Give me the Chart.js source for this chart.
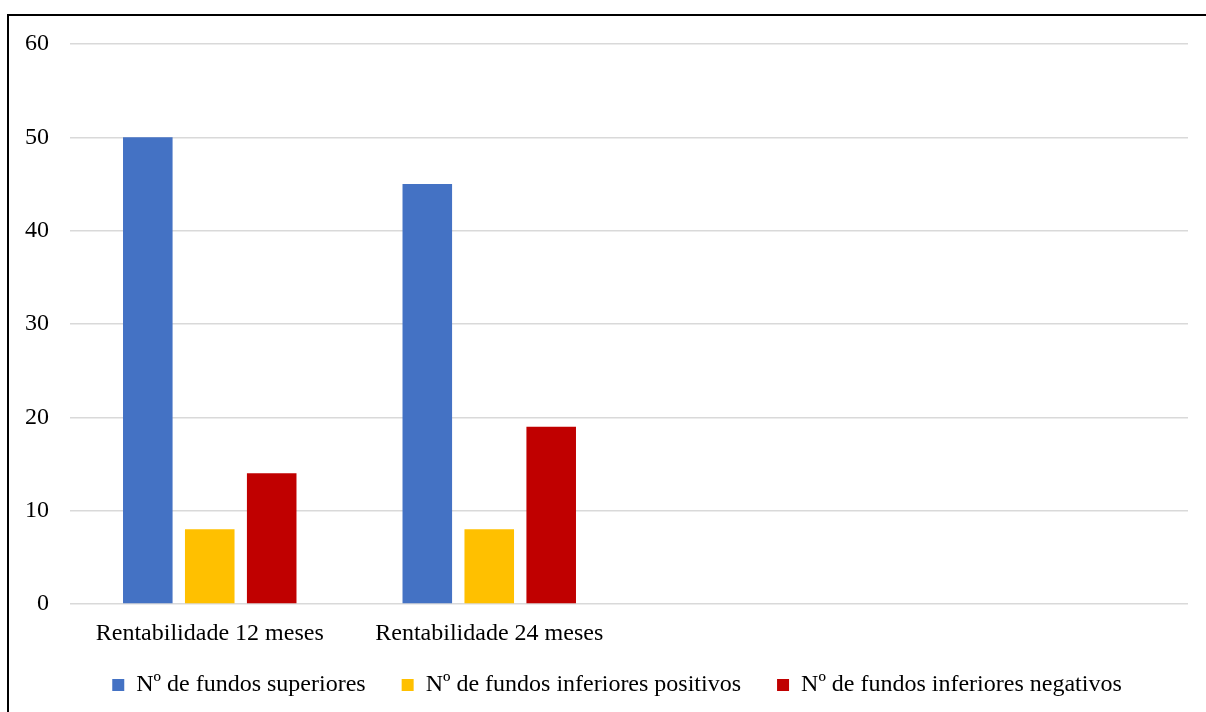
<!DOCTYPE html>
<html lang="pt">
<head>
<meta charset="utf-8">
<title>Rentabilidade dos fundos</title>
<script src="https://cdn.jsdelivr.net/npm/chart.js@4/dist/chart.umd.min.js"></script>
<style>
  html, body { margin: 0; padding: 0; background: #fff; }
  #wrap { position: relative; width: 1206px; height: 712px; overflow: hidden; }
  #moldura {
    position: absolute; left: 7px; top: 14px; width: 1400px; height: 900px;
    border-top: 2px solid #000; border-left: 2px solid #000; pointer-events: none;
  }
  canvas { display: block; }
</style>
</head>
<body>
<div id="wrap">
  <canvas id="grafico" width="1206" height="712"></canvas>
  <div id="moldura"></div>
</div>
<script>
'use strict';

/* ----------------------------------------------------------
   DADOS
   ---------------------------------------------------------- */

var categorias = ['Rentabilidade 12 meses', 'Rentabilidade 24 meses', '', ''];
var fundosSuperiores = [50, 45, null, null];
var fundosInfPositivos = [8, 8, null, null];
var fundosInfNegativos = [14, 19, null, null];
var ticksY = [0, 10, 20, 30, 40, 50, 60];

var FONTE = '"Liberation Serif", "Times New Roman", serif';

function serie(nome, valores, cor) {
  return {
    label: nome,
    data: valores,
    backgroundColor: cor,
    borderWidth: 0,
    categoryPercentage: 0.665,
    barPercentage: 0.8
  };
}

// a legenda do original está um pouco à direita e mais acima
var ajusteLegenda = {
  id: 'ajusteLegenda',
  afterLayout: function (chart) {
    var leg = chart.legend;
    if (!leg) return;
    leg.left += 23; leg.right += 23;
    leg.top -= 12; leg.bottom -= 12;
  }
};

Chart.defaults.font.family = FONTE;
Chart.defaults.color = '#000';
Chart.defaults.animation = false;

new Chart(document.getElementById('grafico'), {
  type: 'bar',
  data: {
    labels: categorias,
    datasets: [
      serie('Nº de fundos superiores', fundosSuperiores, '#4472C4'),
      serie('Nº de fundos inferiores positivos', fundosInfPositivos, '#FFC000'),
      serie('Nº de fundos inferiores negativos', fundosInfNegativos, '#C00000')
    ]
  },
  plugins: [ajusteLegenda],
  options: {
    responsive: false,
    maintainAspectRatio: false,
    layout: { padding: { left: 0, right: 18, top: 44, bottom: -7 } },
    plugins: {
      tooltip: { enabled: false },
      legend: {
        position: 'bottom',
        labels: {
          boxWidth: 12,
          boxHeight: 12,
          padding: 36,
          color: '#000',
          font: { size: 24, family: FONTE }
        }
      }
    },
    scales: {
      x: {
        grid: { display: false, drawTicks: false },
        border: { display: false },
        ticks: { padding: 15, font: { size: 24, family: FONTE }, color: '#000', maxRotation: 0 },
        afterFit: function (eixo) { eixo.height = 45; }
      },
      y: {
        min: 0,
        max: 60,
        afterBuildTicks: function (eixo) {
          eixo.ticks = ticksY.map(function (v) { return { value: v }; });
        },
        grid: { color: '#d9d9d9', lineWidth: 1.5, drawTicks: false },
        border: { display: false },
        ticks: { padding: 21, font: { size: 24, family: FONTE }, color: '#000' },
        afterFit: function (eixo) { eixo.width = 70; }
      }
    }
  }
});
</script>
</body>
</html>
